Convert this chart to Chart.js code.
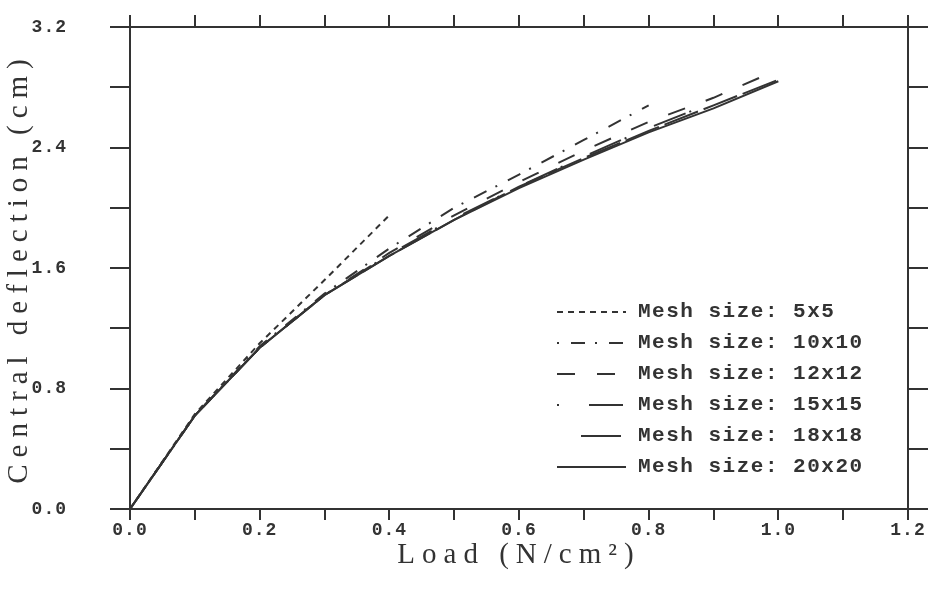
<!DOCTYPE html>
<html>
<head>
<meta charset="utf-8">
<script src="https://cdn.jsdelivr.net/npm/chart.js@4.4.1/dist/chart.umd.min.js"></script>
<style>
  body { margin: 0; background: #fff; }
  #deflection { display: block; }
</style>
</head>
<body>
<canvas id="deflection" width="930" height="593"></canvas>
<script>
// load steps (N/cm^2) and central deflection (cm) for each mesh
const mesh5Load = [0, 0.1, 0.2, 0.3, 0.4]
const mesh5Defl = [0, 0.63, 1.10, 1.52, 1.95]

const mesh10Load = [0, 0.1, 0.2, 0.3, 0.4, 0.5, 0.6, 0.7, 0.8]
const mesh10Defl = [0, 0.62, 1.08, 1.43, 1.73, 2.00, 2.22, 2.45, 2.68]

const mesh12Load = [0, 0.1, 0.2, 0.3, 0.4, 0.5, 0.6, 0.7, 0.8, 0.9, 0.98]
const mesh12Defl = [0, 0.62, 1.07, 1.42, 1.70, 1.95, 2.17, 2.38, 2.57, 2.73, 2.88]

const mesh15Load = [0, 0.1, 0.2, 0.3, 0.4, 0.5, 0.6, 0.7, 0.8, 0.9]
const mesh15Defl = [0, 0.62, 1.07, 1.42, 1.69, 1.93, 2.14, 2.34, 2.53, 2.70]

const mesh18Load = [0, 0.1, 0.2, 0.3, 0.4, 0.5, 0.6, 0.7, 0.8, 0.9, 1.0]
const mesh18Defl = [0, 0.62, 1.07, 1.42, 1.68, 1.92, 2.14, 2.33, 2.51, 2.68, 2.85]

const mesh20Load = [0, 0.1, 0.2, 0.3, 0.4, 0.5, 0.6, 0.7, 0.8, 0.9, 1.0]
const mesh20Defl = [0, 0.62, 1.07, 1.42, 1.68, 1.92, 2.13, 2.32, 2.50, 2.66, 2.84]

const meshNames = ['Mesh size: 5x5', 'Mesh size: 10x10', 'Mesh size: 12x12',
    'Mesh size: 15x15', 'Mesh size: 18x18', 'Mesh size: 20x20']

const ink = '#333'
const tickFont = {family: 'Liberation Mono', size: 18, weight: 'bold'}
const titleFont = {family: 'Liberation Serif', size: 29}

const toPoints = (loads, defl) => loads.map((x, i) => ({x: x, y: defl[i]}))

const makeSet = (label, loads, defl, dash, legendDash) => ({
    label: label,
    data: toPoints(loads, defl),
    borderColor: ink,
    borderWidth: 2,
    borderDash: dash,
    legendDash: legendDash || dash,
    pointRadius: 0,
    fill: false,
    tension: 0,
})

const datasets = [
    makeSet(meshNames[0], mesh5Load, mesh5Defl, [6, 5]),
    makeSet(meshNames[1], mesh10Load, mesh10Defl, [2, 12, 14, 10]),
    makeSet(meshNames[2], mesh12Load, mesh12Defl, [18, 22]),
    makeSet(meshNames[3], mesh15Load, mesh15Defl, [2, 30, 34, 4]),
    makeSet(meshNames[4], mesh18Load, mesh18Defl, [36, 6], [0, 24, 40, 8]),
    makeSet(meshNames[5], mesh20Load, mesh20Defl, []),
]

// the old typewriter lettering is widely spaced: titles first, tick labels after the lines
const letterSpacing = {
    id: 'letterSpacing',
    beforeDraw(chart) { chart.ctx.letterSpacing = '7px' },
    afterDatasetsDraw(chart) { chart.ctx.letterSpacing = '1px' },
    afterDraw(chart) { chart.ctx.letterSpacing = '0px' }
}

// legend drawn inside the plot, lower right
const meshLegend = {
    id: 'meshLegend',
    afterDraw(chart) {
        const ctx = chart.ctx
        ctx.save()
        ctx.font = 'bold 21px "Liberation Mono"'
        ctx.letterSpacing = '1.5px'
        ctx.fillStyle = ink
        ctx.textBaseline = 'middle'
        chart.data.datasets.forEach((ds, i) => {
            const y = 312 + i * 31
            ctx.strokeStyle = ds.borderColor
            ctx.lineWidth = 2
            ctx.setLineDash(ds.legendDash)
            ctx.beginPath()
            ctx.moveTo(557, y)
            ctx.lineTo(626, y)
            ctx.stroke()
            ctx.setLineDash([])
            ctx.fillText(ds.label, 638, y)
        })
        ctx.restore()
    }
}

const axisGrid = (len) => ({drawOnChartArea: false, tickLength: len, color: ink, lineWidth: 2})
const axisBorder = {color: ink, width: 2}

// fixed box sizes; drop the label overhang padding so the frame fills the canvas
const fixWidth = w => s => { s.width = w; s.paddingTop = 0; s.paddingBottom = 0 }
const fixHeight = h => s => { s.height = h; s.paddingLeft = 0; s.paddingRight = 0 }

new Chart(document.getElementById('deflection'), {
    type: 'line',
    data: {datasets: datasets},
    plugins: [letterSpacing, meshLegend],
    options: {
        responsive: false,
        animation: false,
        devicePixelRatio: 1,
        layout: {padding: 0, autoPadding: false},
        plugins: {legend: {display: false}, tooltip: {enabled: false}},
        scales: {
            x: {
                type: 'linear', position: 'bottom', min: 0, max: 1.2,
                afterFit: fixHeight(84),
                grid: axisGrid(11), border: axisBorder,
                ticks: {
                    stepSize: 0.1, autoSkip: false, maxRotation: 0, padding: 0, z: 1,
                    color: ink, font: tickFont,
                    callback: v => Math.round(v * 10) % 2 === 0 ? v.toFixed(1) : ''
                },
                title: {display: true, text: 'Load (N/cm²)', color: ink, font: titleFont, padding: {top: 0, bottom: 20}}
            },
            x2: {
                type: 'linear', position: 'top', min: 0, max: 1.2,
                afterFit: fixHeight(27),
                grid: axisGrid(12), border: axisBorder,
                ticks: {stepSize: 0.1, autoSkip: false, display: false}
            },
            y: {
                type: 'linear', position: 'left', min: 0, max: 3.2,
                afterFit: fixWidth(130),
                grid: axisGrid(20), border: axisBorder,
                ticks: {
                    stepSize: 0.4, autoSkip: false, padding: 43, z: 1,
                    color: ink, font: tickFont,
                    callback: v => Math.round(v * 10) % 8 === 0 ? v.toFixed(1) : ''
                },
                title: {display: true, text: 'Central deflection (cm)', color: ink, font: titleFont, padding: {top: 2, bottom: 0}}
            },
            y2: {
                type: 'linear', position: 'right', min: 0, max: 3.2,
                afterFit: fixWidth(22),
                grid: axisGrid(20), border: axisBorder,
                ticks: {stepSize: 0.4, autoSkip: false, display: false}
            }
        }
    }
})
</script>
</body>
</html>
